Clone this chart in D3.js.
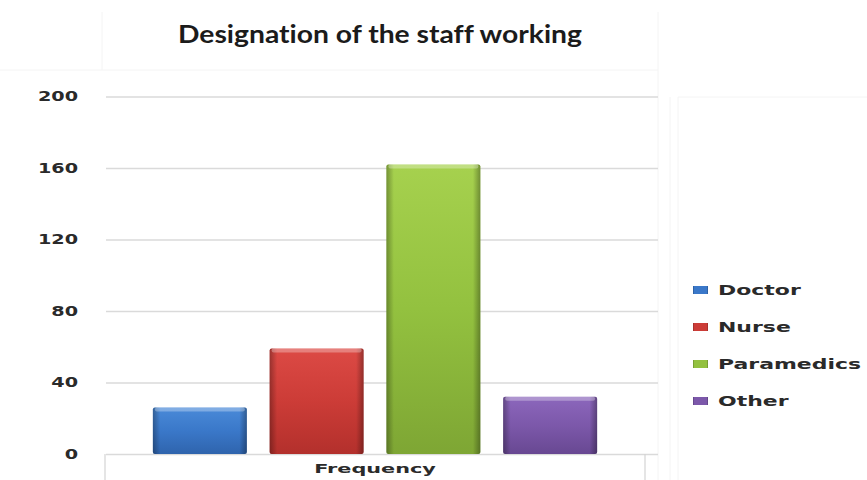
<!DOCTYPE html>
<html>
<head>
<meta charset="utf-8">
<script src="https://cdn.jsdelivr.net/npm/d3@7"></script>
<style>
  html, body { margin: 0; padding: 0; background: #fff; }
  svg { display: block; }
  .title { font-variant-ligatures: none; font-feature-settings: "liga" 0; }
</style>
</head>
<body>
<svg id="chart" width="867" height="480"></svg>
<script>
// Staff designation counts
const categories = ["Doctor", "Nurse", "Paramedics", "Other"];
const frequency = [26, 59, 162, 32];
const yTicks = [0, 40, 80, 120, 160, 200];
const seriesLabel = "Frequency";
const titleText = "Designation of the staff working";

const palette = {
  Doctor:     { top: "#4a8ad8", mid: "#3a78c9", bot: "#2f64ad" },
  Nurse:      { top: "#dc4a45", mid: "#cc3c37", bot: "#b3302c" },
  Paramedics: { top: "#a6d14e", mid: "#93c13f", bot: "#7ea634" },
  Other:      { top: "#8c67bc", mid: "#7c58aa", bot: "#684892" }
};

const svg = d3.select("#chart");
const W = 867, H = 480;

// plot geometry
const plotLeft = 106, plotRight = 658;
const catLeft = 105, catRight = 645;
const y = d3.scaleLinear().domain([0, 200]).range([454, 96.5]);
const x = d3.scaleBand().domain(categories).range([catLeft, catRight])
  .paddingInner(0.195).paddingOuter(0.41);

// gradients for the bevelled bars
const defs = svg.append("defs");
categories.forEach((c, i) => {
  const g = defs.append("linearGradient").attr("id", "vg" + i)
    .attr("x1", 0).attr("y1", 0).attr("x2", 0).attr("y2", 1);
  g.append("stop").attr("offset", "0%").attr("stop-color", palette[c].top);
  g.append("stop").attr("offset", "50%").attr("stop-color", palette[c].mid);
  g.append("stop").attr("offset", "100%").attr("stop-color", palette[c].bot);
});
const hg = defs.append("linearGradient").attr("id", "edge")
  .attr("x1", 0).attr("y1", 0).attr("x2", 1).attr("y2", 0);
[[0, 0.3], [0.08, 0.0], [0.92, 0.0], [1, 0.32]].forEach(([o, a]) =>
  hg.append("stop").attr("offset", o * 100 + "%").attr("stop-color", "#000").attr("stop-opacity", a));

// faint frame remnants around chart, title and legend
const frame = svg.append("g").attr("stroke", "#f4f4f4").attr("fill", "none").attr("stroke-width", 1);
frame.append("line").attr("x1", 0).attr("x2", plotRight).attr("y1", 70).attr("y2", 70);
frame.append("line").attr("x1", 102).attr("x2", 102).attr("y1", 12).attr("y2", 70);
frame.append("line").attr("x1", plotRight).attr("x2", plotRight).attr("y1", 12).attr("y2", H);
frame.append("line").attr("x1", 670).attr("x2", 670).attr("y1", 97).attr("y2", H);
frame.append("line").attr("x1", 678).attr("x2", 678).attr("y1", 97).attr("y2", H);
frame.append("line").attr("x1", 678).attr("x2", W).attr("y1", 97).attr("y2", 97);

// title
svg.append("text")
  .attr("class", "title")
  .attr("x", 178).attr("y", 43)
  .attr("textLength", 404).attr("lengthAdjust", "spacingAndGlyphs")
  .attr("font-family", "Lato, 'Open Sans', sans-serif").attr("font-weight", 700)
  .attr("font-size", 25).attr("fill", "#1b1b1b")
  .text(titleText);

// y axis with gridlines
const yAxis = svg.append("g")
  .attr("transform", `translate(${plotLeft},0)`)
  .call(d3.axisLeft(y).tickValues(yTicks).tickSize(-(plotRight - plotLeft)).tickFormat(d3.format("d")));
yAxis.select(".domain").remove();
yAxis.selectAll(".tick line").attr("stroke", "#dadada").attr("stroke-width", 1.6);
yAxis.selectAll(".tick text")
  .attr("x", 0).attr("text-anchor", "end")
  .attr("transform", "translate(-28,0) scale(1.37,1)")
  .attr("font-family", "'DejaVu Sans', sans-serif").attr("font-weight", 700)
  .attr("font-size", 14).attr("fill", "#2a2a2a");

// category axis box
const xa = svg.append("g").attr("stroke", "#d4d4d4").attr("stroke-width", 1.2).attr("fill", "none");
xa.append("line").attr("x1", catLeft).attr("x2", catLeft).attr("y1", y(0)).attr("y2", H);
xa.append("line").attr("x1", catRight).attr("x2", catRight).attr("y1", y(0)).attr("y2", H);

svg.append("text")
  .attr("x", 0).attr("y", 0)
  .attr("transform", `translate(${(catLeft + catRight) / 2},473) scale(1.6,1)`)
  .attr("text-anchor", "middle")
  .attr("font-family", "'DejaVu Sans', sans-serif").attr("font-weight", 700)
  .attr("font-size", 13).attr("fill", "#2a2a2a")
  .text(seriesLabel);

// bars
const bars = svg.append("g").selectAll("g.bar")
  .data(categories.map((c, i) => ({ c, v: frequency[i], i })))
  .join("g").attr("class", "bar");
bars.append("rect")
  .attr("x", d => x(d.c)).attr("width", x.bandwidth())
  .attr("y", d => y(d.v)).attr("height", d => y(0) - y(d.v))
  .attr("rx", 2)
  .attr("fill", d => `url(#vg${d.i})`);
bars.append("rect")
  .attr("x", d => x(d.c)).attr("width", x.bandwidth())
  .attr("y", d => y(d.v)).attr("height", d => y(0) - y(d.v))
  .attr("rx", 2)
  .attr("fill", "url(#edge)");
bars.append("rect")
  .attr("x", d => x(d.c) + 2).attr("width", x.bandwidth() - 4)
  .attr("y", d => y(d.v)).attr("height", 4)
  .attr("rx", 2)
  .attr("fill", "#fff").attr("fill-opacity", 0.3);

// legend
const legend = svg.append("g").selectAll("g.item")
  .data(categories)
  .join("g").attr("class", "item")
  .attr("transform", (d, i) => `translate(693,${290 + i * 37})`);
legend.append("rect")
  .attr("x", 0).attr("y", -4).attr("width", 15).attr("height", 8)
  .attr("fill", d => palette[d].mid);
legend.append("rect")
  .attr("x", 0).attr("y", -4).attr("width", 15).attr("height", 8)
  .attr("fill", "url(#edge)");
legend.append("text")
  .attr("x", 0).attr("y", 0).attr("dy", "0.36em")
  .attr("transform", "translate(25,0) scale(1.57,1)")
  .attr("font-family", "'DejaVu Sans', sans-serif").attr("font-weight", 700)
  .attr("font-size", 14).attr("fill", "#2a2a2a")
  .text(d => d);
</script>
</body>
</html>
